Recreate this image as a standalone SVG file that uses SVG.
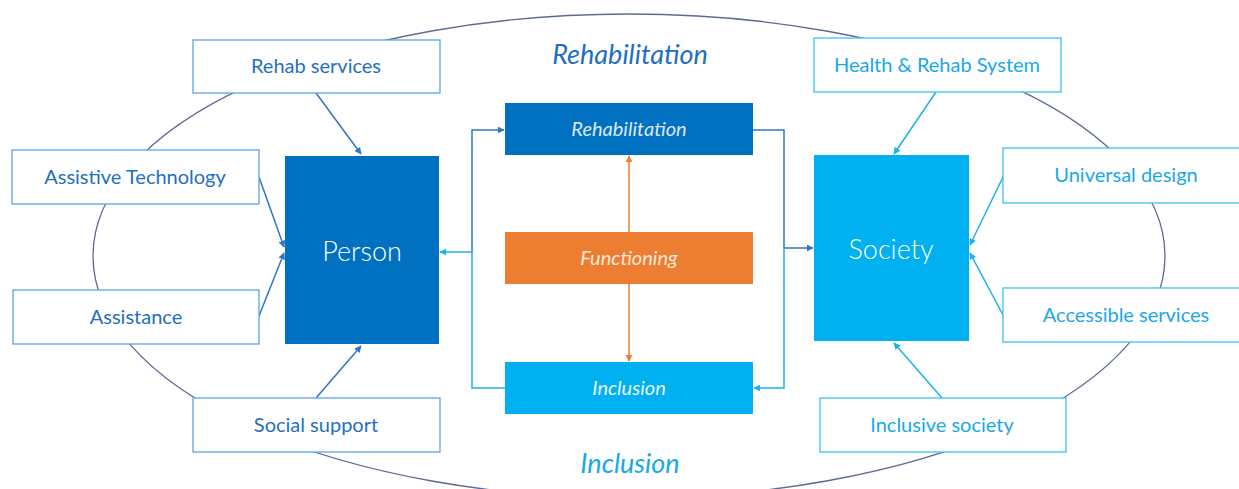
<svg xmlns="http://www.w3.org/2000/svg" width="1239" height="489" viewBox="0 0 1239 489">
<style>
.bg{fill:#ffffff}
.ell{fill:none;stroke:#5d6a96;stroke-width:1.3}
.boxL{fill:#ffffff;stroke:#5fa3e0;stroke-width:1.3}
.boxR{fill:#ffffff;stroke:#3cc0f2;stroke-width:1.3}
.tL{font-family:Lato,"Open Sans",sans-serif;font-size:20px;fill:#1f6fc0;text-anchor:middle}
.tR{font-family:Lato,"Open Sans",sans-serif;font-size:20px;fill:#1aa8e8;text-anchor:middle}
.big{font-family:Lato,"Open Sans",sans-serif;font-size:27px;fill:#ffffff;text-anchor:middle;font-weight:300}
.mid{font-family:Lato,"Open Sans",sans-serif;font-size:20px;font-style:italic;text-anchor:middle}
.title{font-family:Lato,"Open Sans",sans-serif;font-size:27px;font-style:italic;text-anchor:middle}
.cD{fill:none;stroke:#2f75c0;stroke-width:1.5}
.cL{fill:none;stroke:#1fb0ee;stroke-width:1.5}
.cO{fill:none;stroke:#ed7d31;stroke-width:1.5}
</style>
<defs>
<marker id="aD" viewBox="0 0 10 10" refX="9" refY="5" markerWidth="7" markerHeight="7" markerUnits="userSpaceOnUse" orient="auto"><path d="M0,0 L10,5 L0,10 z" fill="#2f75c0"/></marker>
<marker id="aL" viewBox="0 0 10 10" refX="9" refY="5" markerWidth="7" markerHeight="7" markerUnits="userSpaceOnUse" orient="auto"><path d="M0,0 L10,5 L0,10 z" fill="#1fb0ee"/></marker>
<marker id="aO" viewBox="0 0 10 10" refX="9" refY="5" markerWidth="7" markerHeight="7" markerUnits="userSpaceOnUse" orient="auto"><path d="M0,0 L10,5 L0,10 z" fill="#ed7d31"/></marker>
</defs>
<rect class="bg" x="0" y="0" width="1239" height="489"/>
<ellipse class="ell" cx="629" cy="256" rx="536" ry="242"/>

<text class="title" x="630" y="64" fill="#1f6fc0">Rehabilitation</text>
<text class="title" x="630" y="473" fill="#1aa8e8">Inclusion</text>

<g id="connectors">
<line class="cD" x1="316" y1="93" x2="361" y2="154" marker-end="url(#aD)"/>
<line class="cD" x1="259" y1="177" x2="284" y2="247" marker-end="url(#aD)"/>
<line class="cD" x1="259" y1="316" x2="284" y2="253" marker-end="url(#aD)"/>
<line class="cD" x1="316" y1="398" x2="361" y2="346" marker-end="url(#aD)"/>
<line class="cL" x1="936" y1="92" x2="894" y2="154" marker-end="url(#aL)"/>
<line class="cL" x1="1003" y1="177" x2="970" y2="245" marker-end="url(#aL)"/>
<line class="cL" x1="1003" y1="315" x2="970" y2="253" marker-end="url(#aL)"/>
<line class="cL" x1="942" y1="398" x2="894" y2="343" marker-end="url(#aL)"/>
<path class="cD" d="M472,252 V130 H504" marker-end="url(#aD)"/>
<path class="cL" d="M505,388 H472 V252 H440" marker-end="url(#aL)"/>
<path class="cD" d="M753,130 H784 V248 H813" marker-end="url(#aD)"/>
<path class="cL" d="M784,248 V388 H754" marker-end="url(#aL)"/>
<line class="cO" x1="629" y1="232" x2="629" y2="156" marker-end="url(#aO)"/>
<line class="cO" x1="629" y1="284" x2="629" y2="361" marker-end="url(#aO)"/>
</g>

<g id="rehab-services"><rect class="boxL" x="193" y="40" width="247" height="53"/><text class="tL" x="316" y="73">Rehab services</text></g>
<g id="assistive-technology"><rect class="boxL" x="12" y="150" width="247" height="54"/><text class="tL" x="135" y="184">Assistive Technology</text></g>
<g id="assistance"><rect class="boxL" x="13" y="290" width="246" height="54"/><text class="tL" x="136" y="324">Assistance</text></g>
<g id="social-support"><rect class="boxL" x="193" y="398" width="247" height="54"/><text class="tL" x="316" y="432">Social support</text></g>
<g id="health-rehab-system"><rect class="boxR" x="814" y="38" width="247" height="54"/><text class="tR" x="937" y="72">Health &amp; Rehab System</text></g>
<g id="universal-design"><rect class="boxR" x="1003" y="148" width="245" height="55"/><text class="tR" x="1126" y="182">Universal design</text></g>
<g id="accessible-services"><rect class="boxR" x="1003" y="288" width="245" height="54"/><text class="tR" x="1126" y="322">Accessible services</text></g>
<g id="inclusive-society"><rect class="boxR" x="820" y="398" width="246" height="54"/><text class="tR" x="942" y="432">Inclusive society</text></g>

<g id="person"><rect x="285" y="156" width="154" height="188" fill="#0070c0"/><text class="big" x="362" y="261">Person</text></g>
<g id="society"><rect x="814" y="155" width="155" height="186" fill="#00b0f0"/><text class="big" x="891" y="259">Society</text></g>
<g id="rehabilitation"><rect x="505" y="103" width="248" height="52" fill="#0070c0"/><text class="mid" x="629" y="136" fill="#dde8f5">Rehabilitation</text></g>
<g id="functioning"><rect x="505" y="232" width="248" height="52" fill="#ed7d31"/><text class="mid" x="629" y="265" fill="#fde9da">Functioning</text></g>
<g id="inclusion"><rect x="505" y="362" width="248" height="52" fill="#00b0f0"/><text class="mid" x="629" y="395" fill="#e6f6fd">Inclusion</text></g>
</svg>
